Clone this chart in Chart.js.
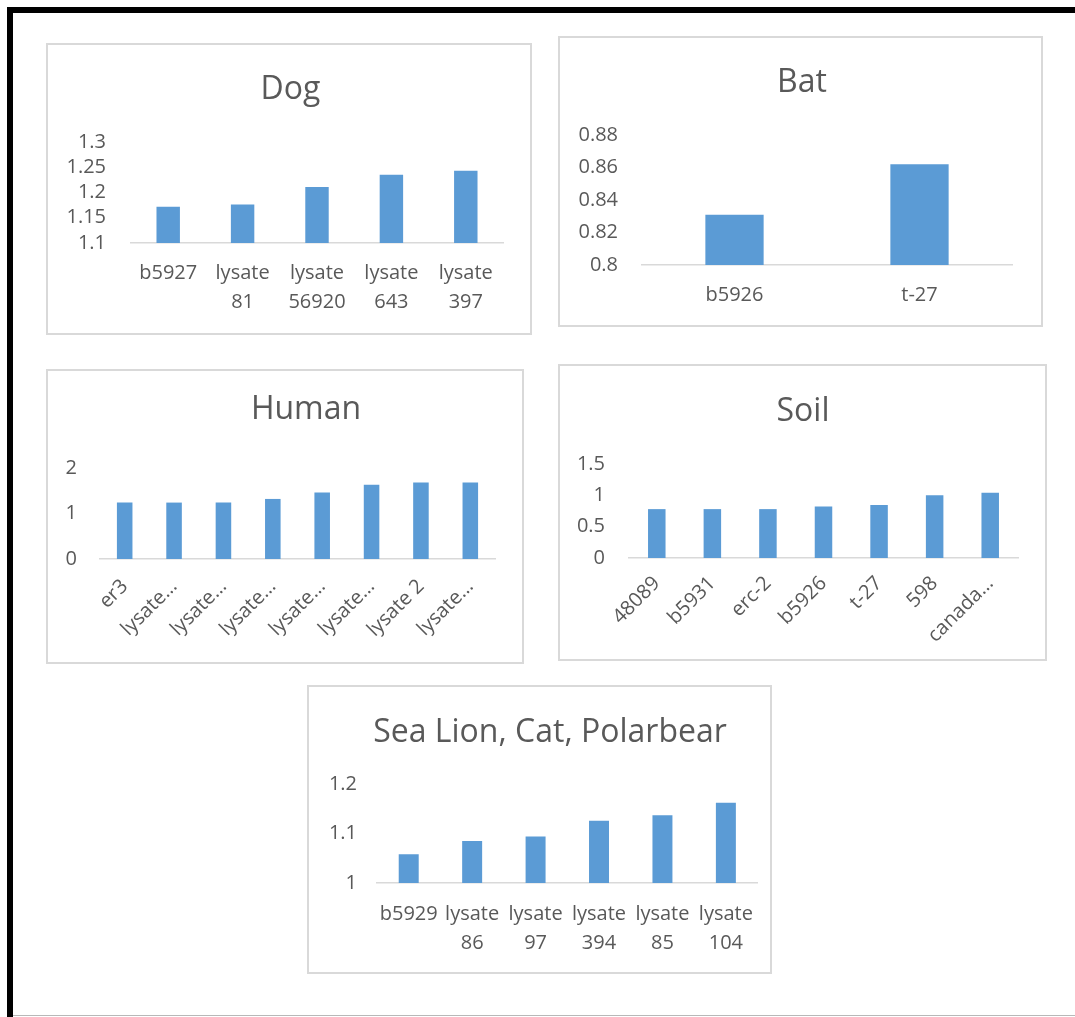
<!DOCTYPE html>
<html>
<head>
<meta charset="utf-8">
<title>Lysate readings by source</title>
<script src="https://cdn.jsdelivr.net/npm/chart.js@4.4.0/dist/chart.umd.min.js"></script>
<style>
  html, body { margin: 0; padding: 0; background: #fff; }
  body { width: 1075px; height: 1017px; position: relative; overflow: hidden; }
  .frame { position: absolute; left: 7px; top: 7px; right: -20px; bottom: -20px;
           border-top: 6px solid #000; border-left: 6px solid #000; }
  .edge { position: absolute; left: 13px; right: 0; top: 1015px; height: 1px; background: #b8b8b8; }
  .panel { position: absolute; box-sizing: border-box; border: 2px solid #d9d9d9; background: #fff; }
  .panel canvas { display: block; }
</style>
</head>
<body>
<div class="frame"></div>
<div class="edge"></div>

<script>
// ---- data ----
const dogCategories = ['b5927', ['lysate', '81'], ['lysate', '56920'], ['lysate', '643'], ['lysate', '397']];
const dogValues = [1.172, 1.176, 1.211, 1.235, 1.243];
const dogTicks = ['1.1', '1.15', '1.2', '1.25', '1.3'];

const batCategories = ['b5926', 't-27'];
const batValues = [0.831, 0.862];
const batTicks = ['0.8', '0.82', '0.84', '0.86', '0.88'];

const humanCategories = ['er3', 'lysate…', 'lysate…', 'lysate…', 'lysate…', 'lysate…', 'lysate 2', 'lysate…'];
const humanValues = [1.24, 1.24, 1.24, 1.32, 1.46, 1.63, 1.68, 1.68];
const humanTicks = ['0', '1', '2'];

const soilCategories = ['48089', 'b5931', 'erc-2', 'b5926', 't-27', '598', 'canada…'];
const soilValues = [0.78, 0.78, 0.78, 0.82, 0.845, 1.0, 1.04];
const soilTicks = ['0', '0.5', '1', '1.5'];

const seaCategories = ['b5929', ['lysate', '86'], ['lysate', '97'], ['lysate', '394'], ['lysate', '85'], ['lysate', '104']];
const seaValues = [1.058, 1.085, 1.094, 1.126, 1.137, 1.162];
const seaTicks = ['1', '1.1', '1.2'];

// ---- panel layout (page pixels) ----
// box: [left, top, width, height] of the bordered panel
// plot: [left, top, right, bottom] of the plotting area
// titleAt: [centerX, centerY] of the title text
const panels = [
  { title: 'Dog', labels: dogCategories, values: dogValues, ticks: dogTicks,
    box: [46, 43, 486, 292], plot: [131, 142, 503, 243], titleAt: [290.5, 89.5], xPad: 15.5, yPad: 25, rot: 0 },
  { title: 'Bat', labels: batCategories, values: batValues, ticks: batTicks,
    box: [558, 36, 485, 291], plot: [642, 135, 1012, 265], titleAt: [802, 83], xPad: 15.5, yPad: 24, rot: 0 },
  { title: 'Human', labels: humanCategories, values: humanValues, ticks: humanTicks,
    box: [46, 369, 478, 295], plot: [100, 468, 495, 559], titleAt: [306, 410], xPad: 14, yPad: 23, rot: 45 },
  { title: 'Soil', labels: soilCategories, values: soilValues, ticks: soilTicks,
    box: [558, 364, 489, 297], plot: [629, 464, 1018, 558], titleAt: [803, 412], xPad: 12, yPad: 24, rot: 45 },
  { title: 'Sea Lion, Cat, Polarbear', labels: seaCategories, values: seaValues, ticks: seaTicks,
    box: [307, 685, 465, 289], plot: [377, 784, 763, 883], titleAt: [550, 732.5], xPad: 16.5, yPad: 20, rot: 0 }
];

const FONT = "'Open Sans', 'DejaVu Sans', sans-serif";
const TEXT = '#595959';
const BAR = '#5B9BD5';
const AXIS = '#d9d9d9';
const TITLE_SIZE = 32;
const TICK_SIZE = 20;

// moves the title block sideways by options.plugins.titleShift.dx
const titleShift = {
  id: 'titleShift',
  afterLayout(chart, args, opts) {
    const t = chart.titleBlock;
    if (t && opts.dx) { t.left += opts.dx; t.right += opts.dx; }
  }
};

function drawPanel(p) {
  const [bx, by, bw, bh] = p.box;
  const div = document.createElement('div');
  div.className = 'panel';
  Object.assign(div.style, { left: bx + 'px', top: by + 'px', width: bw + 'px', height: bh + 'px' });
  const canvas = document.createElement('canvas');
  const W = bw - 4, H = bh - 4;
  canvas.width = W; canvas.height = H;
  div.appendChild(canvas);
  document.body.appendChild(div);

  const cx = bx + 2, cy = by + 2;
  const cl = p.plot[0] - cx, ct = p.plot[1] - cy, cr = p.plot[2] - cx, cb = p.plot[3] - cy;
  const tcx = p.titleAt[0] - cx, tcy = p.titleAt[1] - cy;

  const leftW = cl, rightW = W - cr;
  const lineH = TITLE_SIZE * 1.2;
  const titleTop = tcy - lineH / 2;
  const titleBottom = ct - titleTop - lineH;
  const xHeight = H - cb;

  const tickVals = p.ticks.map(Number);

  new Chart(canvas, {
    type: 'bar',
    plugins: [titleShift],
    data: {
      labels: p.labels,
      datasets: [{
        data: p.values,
        backgroundColor: BAR,
        borderWidth: 0,
        barPercentage: 0.315,
        categoryPercentage: 1,
        xAxisID: 'x',
        yAxisID: 'y'
      }]
    },
    options: {
      responsive: false,
      animation: false,
      events: [],
      layout: { padding: 0 },
      plugins: {
        legend: { display: false },
        tooltip: { enabled: false },
        titleShift: { dx: tcx - W / 2 },
        title: {
          display: true,
          text: p.title,
          color: TEXT,
          font: { family: FONT, size: TITLE_SIZE, weight: 'normal', lineHeight: 1.2 },
          padding: { top: titleTop, bottom: titleBottom }
        }
      },
      scales: {
        x: {
          position: 'bottom',
          grid: { display: false, drawTicks: false },
          border: { display: true, color: AXIS, width: 1.5 },
          ticks: {
            color: TEXT,
            font: { family: FONT, size: TICK_SIZE, lineHeight: 1.45 },
            padding: p.xPad,
            autoSkip: false,
            minRotation: p.rot,
            maxRotation: p.rot
          },
          afterFit: (s) => { s.height = xHeight; }
        },
        y: {
          position: 'left',
          min: tickVals[0],
          max: tickVals[tickVals.length - 1],
          grid: { display: false, drawTicks: false },
          border: { display: false },
          ticks: {
            color: TEXT,
            font: { family: FONT, size: TICK_SIZE },
            padding: p.yPad,
            autoSkip: false,
            callback: (v, i) => p.ticks[i]
          },
          afterBuildTicks: (s) => { s.ticks = tickVals.map(v => ({ value: v })); },
          afterFit: (s) => { s.width = leftW; }
        },
        yRight: {
          position: 'right',
          display: true,
          min: 0,
          max: 1,
          grid: { display: false, drawTicks: false },
          border: { display: false },
          ticks: { display: false },
          afterFit: (s) => { s.width = rightW; }
        }
      }
    }
  });
}

panels.forEach(drawPanel);
</script>
</body>
</html>
